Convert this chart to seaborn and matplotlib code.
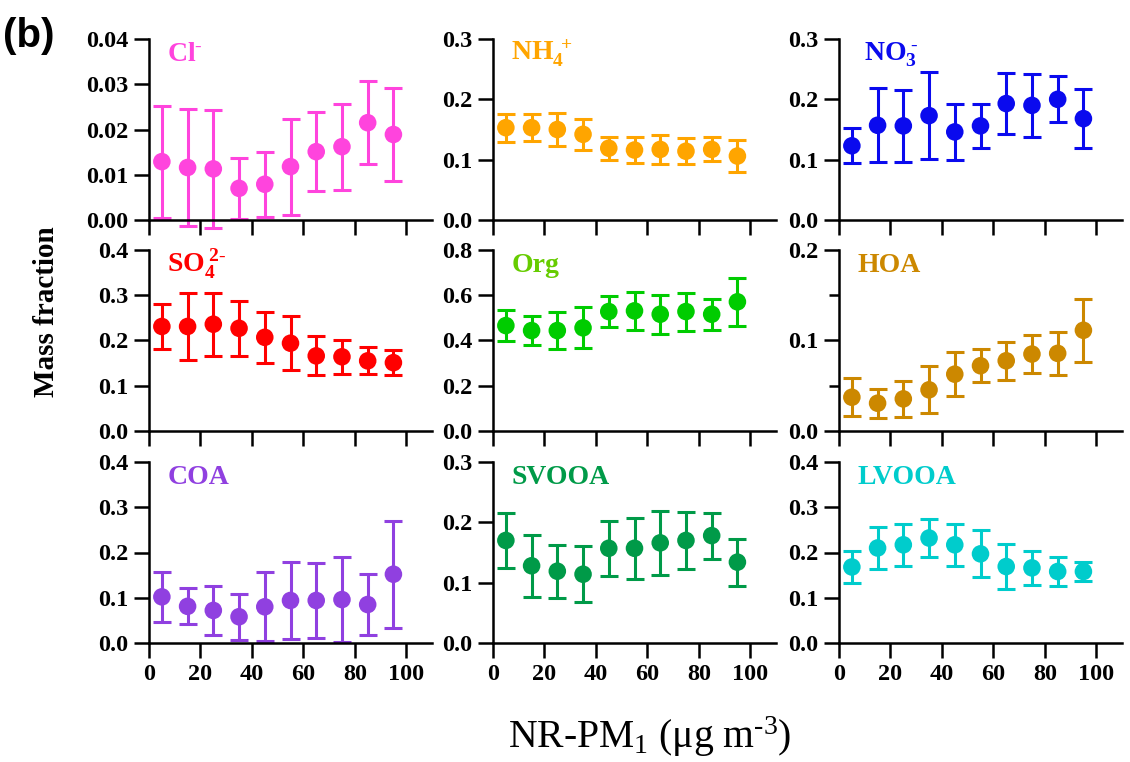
"""
Mass fraction of NR-PM1 species and OA factors vs. NR-PM1 loading, panel (b).
"""

import matplotlib
matplotlib.use("Agg")
import matplotlib.pyplot as plt
import pandas as pd
import seaborn as sns

# NR-PM1 bins (ug m-3, bin centres)
pm_bins = [5, 15, 25, 35, 45, 55, 65, 75, 85, 95]

# mean mass fraction and 1 sd for each species
cl_mean = [0.0129, 0.0116, 0.0113, 0.0070, 0.0079, 0.0118, 0.0151, 0.0162, 0.0215, 0.0189]
cl_sd = [0.0124, 0.0130, 0.0130, 0.0067, 0.0072, 0.0106, 0.0087, 0.0095, 0.0092, 0.0102]

nh4_mean = [0.153, 0.153, 0.150, 0.142, 0.119, 0.116, 0.117, 0.114, 0.117, 0.106]
nh4_sd = [0.023, 0.022, 0.028, 0.026, 0.019, 0.022, 0.024, 0.022, 0.020, 0.027]

no3_mean = [0.123, 0.157, 0.156, 0.173, 0.146, 0.156, 0.193, 0.190, 0.200, 0.168]
no3_sd = [0.029, 0.061, 0.060, 0.072, 0.046, 0.037, 0.050, 0.052, 0.038, 0.049]

so4_mean = [0.231, 0.231, 0.236, 0.227, 0.207, 0.194, 0.166, 0.164, 0.155, 0.151]
so4_sd = [0.050, 0.074, 0.070, 0.061, 0.057, 0.060, 0.043, 0.038, 0.030, 0.027]

org_mean = [0.466, 0.444, 0.444, 0.456, 0.528, 0.531, 0.516, 0.528, 0.516, 0.571]
org_sd = [0.067, 0.063, 0.081, 0.091, 0.068, 0.083, 0.087, 0.084, 0.069, 0.105]

hoa_mean = [0.0373, 0.0307, 0.0355, 0.0455, 0.0628, 0.0721, 0.0776, 0.0850, 0.0858, 0.1113]
hoa_sd = [0.021, 0.016, 0.020, 0.026, 0.024, 0.018, 0.021, 0.021, 0.024, 0.035]

coa_mean = [0.102, 0.081, 0.072, 0.058, 0.080, 0.094, 0.094, 0.096, 0.085, 0.152]
coa_sd = [0.056, 0.040, 0.055, 0.051, 0.076, 0.086, 0.083, 0.094, 0.068, 0.118]

svooa_mean = [0.170, 0.128, 0.119, 0.114, 0.157, 0.157, 0.166, 0.170, 0.178, 0.134]
svooa_sd = [0.046, 0.051, 0.044, 0.046, 0.046, 0.051, 0.053, 0.047, 0.038, 0.039]

lvooa_mean = [0.168, 0.210, 0.217, 0.232, 0.217, 0.197, 0.169, 0.166, 0.158, 0.158]
lvooa_sd = [0.036, 0.046, 0.046, 0.043, 0.047, 0.052, 0.049, 0.038, 0.032, 0.022]

species = ["Cl", "NH4", "NO3", "SO4", "Org", "HOA", "COA", "SVOOA", "LVOOA"]
species_labels = [r"$\mathbf{Cl^{\text{-}}}$", r"$\mathbf{NH_4^{\ +}}$", r"$\mathbf{NO_3^{\ \text{-}}}$",
                  r"$\mathbf{SO_4^{\ 2\text{-}}}$", "Org", "HOA", "COA", "SVOOA", "LVOOA"]
means = [cl_mean, nh4_mean, no3_mean, so4_mean, org_mean, hoa_mean, coa_mean, svooa_mean, lvooa_mean]
sds = [cl_sd, nh4_sd, no3_sd, so4_sd, org_sd, hoa_sd, coa_sd, svooa_sd, lvooa_sd]
y_max = [0.04, 0.3, 0.3, 0.4, 0.8, 0.2, 0.4, 0.3, 0.4]
y_step = [0.01, 0.1, 0.1, 0.1, 0.2, 0.1, 0.1, 0.1, 0.1]

point_colors = ["#FF44DD", "#FFA500", "#0A0AEE", "#FF0000", "#00CC00",
                "#CC8800", "#9040E0", "#009A48", "#00CCCC"]
label_colors = ["#FF44DD", "#FFA500", "#0A0AEE", "#FF0000", "#66CC00",
                "#CC8800", "#9040E0", "#009A48", "#00CCCC"]

sns.set_theme(style="ticks")
plt.rcParams["font.family"] = ["Liberation Serif", "DejaVu Serif"]
plt.rcParams["mathtext.fontset"] = "custom"
plt.rcParams["mathtext.rm"] = "Liberation Serif"
plt.rcParams["mathtext.it"] = "Liberation Serif:italic"
plt.rcParams["mathtext.bf"] = "Liberation Serif:bold"
for key in ["text.color", "axes.labelcolor", "xtick.color", "ytick.color", "axes.edgecolor"]:
    plt.rcParams[key] = "black"

W, H = 1130, 762
fig = plt.figure(figsize=(W / 100, H / 100), dpi=100)

# layout in pixels
col_left = [149, 493, 839]
row_top = [39, 250, 462]
ax_w, ax_h = 283, 181

for i, name in enumerate(species):
    r, c = divmod(i, 3)
    ax = fig.add_axes([col_left[c] / W, 1 - (row_top[r] + ax_h) / H, ax_w / W, ax_h / H])
    df = pd.DataFrame({"pm": pm_bins, "frac": means[i], "sd": sds[i]})

    ax.errorbar(df["pm"], df["frac"], yerr=df["sd"], fmt="none",
                ecolor=point_colors[i], elinewidth=2.2, capsize=6.5, capthick=2.2,
                clip_on=False, zorder=2)
    sns.scatterplot(data=df, x="pm", y="frac", ax=ax, color=point_colors[i],
                    s=160, edgecolor="none", zorder=3, clip_on=False, legend=False)

    ax.set_xlim(0, 110)
    ax.set_ylim(0, y_max[i])
    n = int(round(y_max[i] / y_step[i]))
    ticks = [k * y_step[i] for k in range(n + 1)]
    ax.set_yticks(ticks)
    fmt = "{:.2f}" if y_step[i] < 0.1 else "{:.1f}"
    ax.set_yticklabels([fmt.format(t) for t in ticks])
    if name == "HOA":
        ax.set_yticks([0.05, 0.15], minor=True)
    ax.set_xticks([0, 20, 40, 60, 80, 100])
    if r == 2:
        ax.set_xticklabels(["0", "20", "40", "60", "80", "100"])
    else:
        ax.set_xticklabels([])

    ax.set_xlabel("")
    ax.set_ylabel("")
    sns.despine(ax=ax)
    for side in ["left", "bottom"]:
        ax.spines[side].set_linewidth(1.8)
    ax.tick_params(axis="both", which="major", direction="out", length=11, width=1.8,
                   labelsize=17.5, pad=4)
    ax.tick_params(axis="y", which="minor", direction="out", length=7, width=1.8)
    for lab in ax.get_xticklabels() + ax.get_yticklabels():
        lab.set_fontweight("bold")

    lx = 0.09 if name == "NO3" else 0.065
    ax.text(lx, 0.88, species_labels[i], transform=ax.transAxes, color=label_colors[i],
            fontsize=20, fontweight="bold", va="baseline", ha="left")

fig.text(47 / W, 1 - 312 / H, "Mass fraction", rotation=90, ha="center", va="center",
         fontsize=21, fontweight="bold")
fig.text(650 / W, 1 - 737 / H, r"NR-PM$_1$ (μg m$^{\text{-}3}$)", ha="center", va="center",
         fontsize=28.5)
fig.text(3 / W, 1 - 36 / H, "(b)", ha="left", va="center", fontsize=29,
         fontweight="bold", family=["Liberation Sans", "DejaVu Sans"])

fig.savefig("out.png", dpi=100)
